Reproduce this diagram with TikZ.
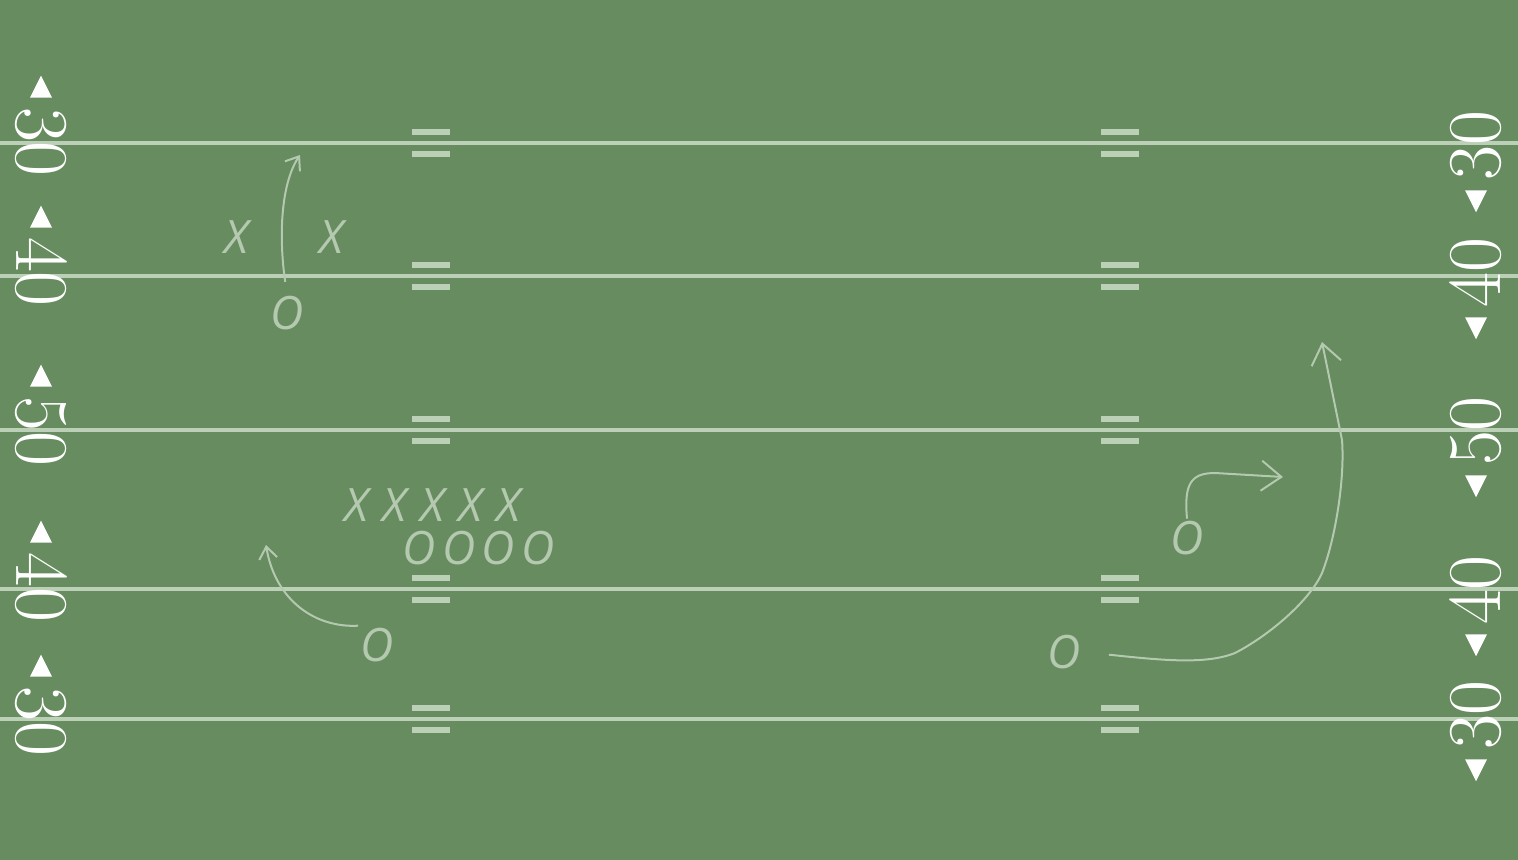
\documentclass[tikz,border=0pt]{standalone}
\usepackage{fontspec}
\usetikzlibrary{arrows.meta,positioning}
\newfontfamily\playfont{Open Sans}
\definecolor{turf}{HTML}{668C5F}
\definecolor{chalk}{HTML}{BCD0B8}
\definecolor{mark}{HTML}{B4C9AF}

\begin{document}
\begin{tikzpicture}[
      x=0.5pt, y=-0.5pt,
      yardline/.style={draw=chalk, line width=2pt},
      hashbar/.style={draw=chalk, line width=3.3pt},
      yardnum/.style={text=white, inner sep=0pt, font=\fontsize{38}{38}\selectfont},
      numleft/.style={yardnum, rotate=-90},
      numright/.style={yardnum, rotate=90},
      player/.style={text=mark, inner sep=1pt, font=\playfont\itshape\fontsize{23}{23}\selectfont},
      route/.style={draw=mark, line width=1pt, -{Straight Barb[length=6pt, width=9pt]}},
      deep/.style={route, -{Straight Barb[length=10pt, width=15pt]}}
    ]
    \useasboundingbox (0,0) rectangle (1518,860);
    \fill[turf] (-6,-6) rectangle (1524,866);

    \draw[yardline] (-6,143) -- (1524,143);
    \draw[yardline] (-6,276) -- (1524,276);
    \draw[yardline] (-6,430) -- (1524,430);
    \draw[yardline] (-6,589) -- (1524,589);
    \draw[yardline] (-6,719) -- (1524,719);

    \draw[hashbar] (412,132) -- (450,132) (412,154) -- (450,154) (1101,132) -- (1139,132) (1101,154) -- (1139,154);
    \draw[hashbar] (412,265) -- (450,265) (412,287) -- (450,287) (1101,265) -- (1139,265) (1101,287) -- (1139,287);
    \draw[hashbar] (412,419) -- (450,419) (412,441) -- (450,441) (1101,419) -- (1139,419) (1101,441) -- (1139,441);
    \draw[hashbar] (412,578) -- (450,578) (412,600) -- (450,600) (1101,578) -- (1139,578) (1101,600) -- (1139,600);
    \draw[hashbar] (412,708) -- (450,708) (412,730) -- (450,730) (1101,708) -- (1139,708) (1101,730) -- (1139,730);

    \node[numleft] (left30a) at (41,142) {30};
    \node[numleft] (left40a) at (41,272) {40};
    \node[numleft] (left50) at (41,431) {50};
    \node[numleft] (left40b) at (41,587) {40};
    \node[numleft] (left30b) at (41,721) {30};
    \node[numright] (right30a) at (1476,146) {30};
    \node[numright] (right40a) at (1476,273) {40};
    \node[numright] (right50) at (1476,431) {50};
    \node[numright] (right40b) at (1476,590) {40};
    \node[numright] (right30b) at (1476,715) {30};

    \fill[white] (left30a.west) ++(-11,-9) -- ++(22,0) -- ++(-11,-22) -- cycle
      (left40a.west) ++(-11,-9) -- ++(22,0) -- ++(-11,-22) -- cycle
      (left50.west) ++(-11,-9) -- ++(22,0) -- ++(-11,-22) -- cycle
      (left40b.west) ++(-11,-9) -- ++(22,0) -- ++(-11,-22) -- cycle
      (left30b.west) ++(-11,-9) -- ++(22,0) -- ++(-11,-22) -- cycle;
    \fill[white] (right30a.west) ++(-11,9) -- ++(22,0) -- ++(-11,22) -- cycle
      (right40a.west) ++(-11,9) -- ++(22,0) -- ++(-11,22) -- cycle
      (right50.west) ++(-11,9) -- ++(22,0) -- ++(-11,22) -- cycle
      (right40b.west) ++(-11,9) -- ++(22,0) -- ++(-11,22) -- cycle
      (right30b.west) ++(-11,9) -- ++(22,0) -- ++(-11,22) -- cycle;

    \node[player] (wideleft) at (237,237) {X};
    \node[player] (wideright) at (332,237) {X};
    \node[player] (slot) at (287,313) {O};
    \node[player] (line1) at (357,505) {X};
    \node[player] (line2) at (395,505) {X};
    \node[player] (line3) at (433,505) {X};
    \node[player] (line4) at (471,505) {X};
    \node[player] (line5) at (509,505) {X};
    \node[player] (back1) at (419,548) {O};
    \node[player] (back2) at (459,548) {O};
    \node[player] (back3) at (498,548) {O};
    \node[player] (back4) at (538,548) {O};
    \node[player] (flat) at (377,645) {O};
    \node[player] (hook) at (1187,538) {O};
    \node[player] (wheel) at (1064,652) {O};

    \coordinate (slotend) at (300,155);
    \coordinate (flatend) at (266,545);
    \coordinate (hookend) at (1283,477);
    \coordinate (wheelend) at (1322,342);

    \draw[route, shorten <=6pt] (slot.north) .. controls (279,240) and (280,185) .. (slotend);
    \draw[route] (flat.north west) .. controls (315,628) and (275,600) .. (flatend);
    \draw[deep] (hook.north) .. controls (1184,485) and (1190,473) .. (1215,473) -- (hookend);
    \draw[deep, shorten <=13pt] (wheel.east) .. controls (1160,660) and (1205,665) .. (1235,653)
      .. controls (1270,635) and (1310,600) .. (1322,573)
      .. controls (1335,540) and (1345,480) .. (1342,440) -- (wheelend);
  \end{tikzpicture}
\end{document}
